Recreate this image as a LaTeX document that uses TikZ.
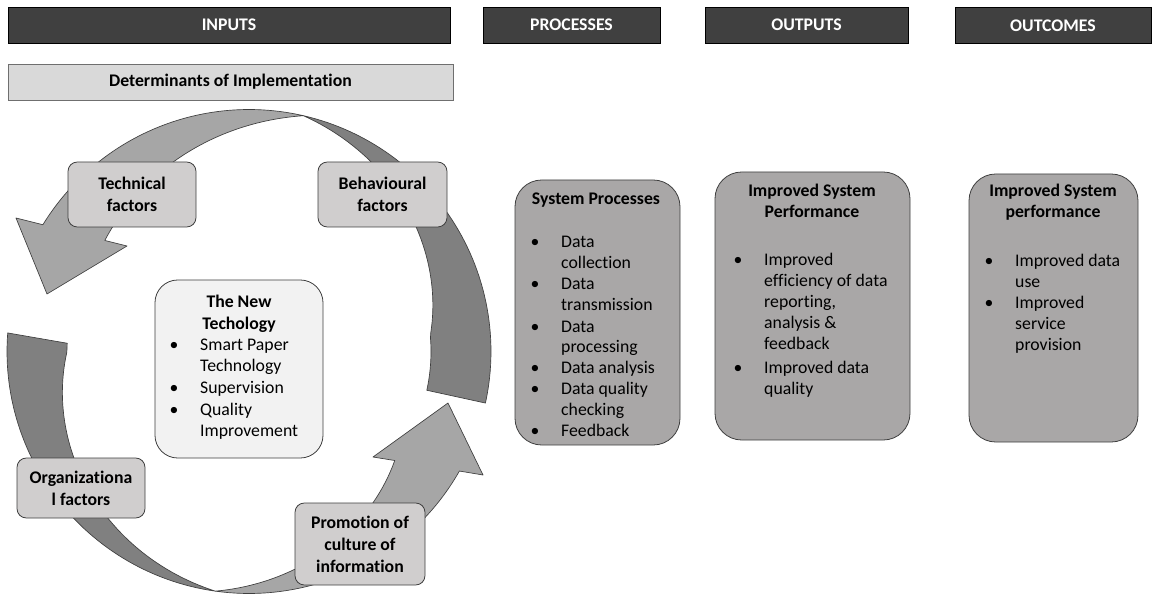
\documentclass[tikz,border=0pt]{standalone}
\usepackage{fontspec}
\setmainfont{Carlito}[Ligatures=NoCommon]
\definecolor{headfill}{HTML}{404040}
\definecolor{detfill}{HTML}{D9D9D9}
\definecolor{factfill}{HTML}{D0CECE}
\definecolor{techfill}{HTML}{F2F2F2}
\definecolor{procfill}{HTML}{A9A7A7}
\definecolor{arclight}{HTML}{A6A6A6}
\definecolor{arcdark}{HTML}{808080}
\definecolor{edgegray}{HTML}{3F3F3F}
\newcommand{\bul}{\makebox[23pt][l]{\textbullet}}
\newcommand{\ind}{\hspace*{23pt}}
\newcommand{\rowsof}[2]{\begin{tabular}[t]{@{}#1@{}}#2\end{tabular}}
\begin{document}
\begin{tikzpicture}[x=0.75pt, y=-0.75pt,
    declare function={tl(\t)=182+60*(0.6*(142.4-\t)/65.4+0.4*((142.4-\t)/65.4)^2);
      tr(\t)=182+60*max(0,\t-5)/72;
      bl(\t)=182+60*max(0,\t-180)/82;
      br(\t)=182+60*(323.2-\t)/61.2;},
    every node/.style={inner sep=0pt, font=\fontsize{13.3pt}{15.75pt}\selectfont},
    header/.style={draw=black, fill=headfill, text=white, line width=0.6pt,
      minimum height=27pt, font=\fontsize{13.3pt}{15.75pt}\selectfont\bfseries},
    detbox/.style={draw=edgegray!75, fill=detfill, line width=0.6pt,
      minimum height=27pt, font=\fontsize{13.3pt}{15.75pt}\selectfont\bfseries},
    factor/.style={draw=edgegray, fill=factfill, rounded corners=7pt, line width=0.6pt,
      align=center, font=\fontsize{13.3pt}{16.5pt}\selectfont\bfseries},
    techbox/.style={draw=edgegray, fill=techfill, rounded corners=17pt, line width=0.6pt},
    procbox/.style={draw=edgegray, fill=procfill, rounded corners=20pt, line width=0.6pt},
    boxtitle/.style={anchor=base, font=\fontsize{13.3pt}{15.75pt}\selectfont\bfseries},
    itemlist/.style={anchor=base west},
    ring/.style={draw=edgegray, line width=0.5pt, line join=round}]
  \useasboundingbox (0,0) rectangle (1153,595);

  \begin{scope}[ring]
    \filldraw[fill=arcdark]
      plot[domain=77:-12.3, samples=60] ({249+242*cos(\x)}, {351.5-242*sin(\x)})
      -- plot[domain=-12.3:77, samples=60] ({249+tr(\x)*cos(\x)}, {351.5-tr(\x)*sin(\x)})
      -- cycle;
    \filldraw[fill=arcdark]
      plot[domain=175.6:262, samples=60] ({249+242*cos(\x)}, {351.5-242*sin(\x)})
      -- plot[domain=262:177.4, samples=60] ({249+bl(\x)*cos(\x)}, {351.5-bl(\x)*sin(\x)})
      -- cycle;
    \filldraw[fill=arclight]
      plot[domain=77:148.4, samples=60] ({249+242*cos(\x)}, {351.5-242*sin(\x)})
      -- (16,218) -- (47,294) -- (127,246)
      -- plot[domain=142.4:77, samples=60] ({249+tl(\x)*cos(\x)}, {351.5-tl(\x)*sin(\x)})
      -- cycle;
    \filldraw[fill=arclight]
      plot[domain=262:330.4, samples=60] ({249+242*cos(\x)}, {351.5-242*sin(\x)})
      -- (483,475) -- (448,403) -- (373,457)
      -- plot[domain=323.2:262, samples=60] ({249+br(\x)*cos(\x)}, {351.5-br(\x)*sin(\x)})
      -- cycle;
  \end{scope}

  \draw
    (229,25) node[header, minimum width=331.5pt] (inputs) {INPUTS}
    (571.5,25) node[header, minimum width=132.75pt] (processes) {PROCESSES}
    (806.5,25) node[header, minimum width=152.25pt] (outputs) {OUTPUTS}
    (1053,25.5) node[header, minimum width=147pt] (outcomes) {OUTCOMES}
    (230.5,82) node[detbox, minimum width=333.75pt] (determinants) {Determinants of Implementation};

  \draw
    (132,194.5) node[factor, minimum width=96pt, minimum height=48.75pt] (technical) {Technical\\factors}
    (382.5,194.5) node[factor, minimum width=96.75pt, minimum height=48.75pt] (behavioural) {Behavioural\\factors}
    (81,488) node[factor, minimum width=96pt, minimum height=45pt] (organizational) {Organizationa\\l factors}
    (360,544) node[factor, minimum width=97.5pt, minimum height=61.5pt] (promotion) {Promotion of\\culture of\\information};

  \node[techbox, minimum width=126pt, minimum height=133.5pt] (newtech) at (239,369) {};
  \node[boxtitle, font=\fontsize{13.3pt}{16.3pt}\selectfont\bfseries] (newtechtitle) at (239,308) {\rowsof{c}{The New\\Techology}};
  \node[itemlist, font=\fontsize{13.3pt}{16.3pt}\selectfont] (newtechlist) at (169.3,350)
    {\rowsof{l}{\bul Smart Paper\\ \ind Technology\\ \bul Supervision\\ \bul Quality\\ \ind Improvement}};

  \node[procbox, minimum width=123.75pt, minimum height=198.75pt] (sysproc) at (597.5,312.5) {};
  \node[boxtitle] (sysproctitle) at (596,205) {System Processes};
  \node[itemlist] (sysproclist) at (530.3,248)
    {\rowsof{l}{\bul Data\\ \ind collection\\ \bul Data\\ \ind transmission\\ \bul Data\\ \ind processing\\ \bul Data analysis\\ \bul Data quality\\ \ind checking\\ \bul Feedback}};

  \node[procbox, minimum width=146.25pt, minimum height=201pt] (perf) at (812.5,306) {};
  \node[boxtitle] (perftitle) at (812,197) {\rowsof{c}{Improved System\\Performance}};
  \node[itemlist] (perflist) at (733.3,266)
    {\rowsof{l}{\bul Improved\\ \ind efficiency of data\\ \ind reporting,\\ \ind analysis \&\\ \ind feedback\\[2pt] \bul Improved data\\ \ind quality}};

  \node[procbox, minimum width=126.75pt, minimum height=201pt] (outperf) at (1053.5,308) {};
  \node[boxtitle] (outperftitle) at (1053,197) {\rowsof{c}{Improved System\\performance}};
  \node[itemlist] (outperflist) at (984.3,267)
    {\rowsof{l}{\bul Improved data\\ \ind use\\ \bul Improved\\ \ind service\\ \ind provision}};
\end{tikzpicture}
\end{document}
